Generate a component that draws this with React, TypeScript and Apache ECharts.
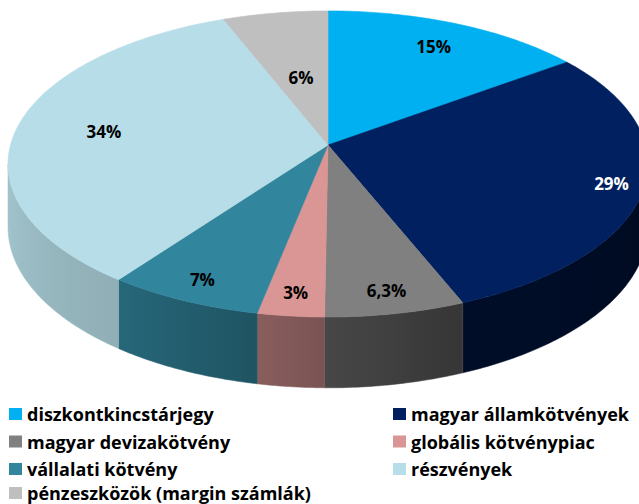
import React, { useEffect, useRef } from "react";
import * as echarts from "echarts";

// ---- data ----
const categories = [
  "diszkontkincstárjegy",
  "magyar államkötvények",
  "magyar devizakötvény",
  "globális kötvénypiac",
  "vállalati kötvény",
  "részvények",
  "pénzeszközök (margin számlák)",
];
const values = [15, 29, 6.3, 3, 7, 34, 6];
const valueLabels = ["15%", "29%", "6,3%", "3%", "7%", "34%", "6%"];

// ---- styles / layout ----
const topColors = ["#00B0F0", "#002060", "#808080", "#D99694", "#31859C", "#B7DEE8", "#BFBFBF"];
const labelColors = ["#000", "#fff", "#000", "#000", "#000", "#000", "#000"];
const labelRadius = [0.8, 0.9, 0.88, 0.88, 0.88, 0.72, 0.48];
const shadeStops: [number, number][] = [
  [97, 0.33],
  [158, 0.42],
  [181, 0.56],
  [192, 0.635],
  [217, 0.785],
  [263, 0.89],
];
// legend grid: column by index parity, row by index / 2
const legendColumnX = [9, 393];
const legendRowTop = [405, 432.5, 460, 484];

const CX = 328;
const CY = 145;
const A = 317.5;
const B = 150.7;
const K = 0.124;
const DEPTH = 62;
const FONT = "'Open Sans', Lato, sans-serif";

function proj(r: number, deg: number, drop = 0): number[] {
  const t = (deg * Math.PI) / 180;
  const w = 1 + K * r * Math.cos(t);
  return [CX + (A * r * Math.sin(t)) / w, CY + (-B * r * Math.cos(t) + drop) / w];
}

function hexToRgb(h: string) {
  const s = h.replace("#", "");
  return [0, 2, 4].map((i) => parseInt(s.substr(i, 2), 16));
}

function shadeFactor(deg: number) {
  if (deg <= shadeStops[0][0]) return shadeStops[0][1];
  for (let i = 1; i < shadeStops.length; i++) {
    const [a0, f0] = shadeStops[i - 1];
    const [a1, f1] = shadeStops[i];
    if (deg <= a1) return f0 + ((deg - a0) / (a1 - a0)) * (f1 - f0);
  }
  return shadeStops[shadeStops.length - 1][1];
}

function shade(color: string, deg: number) {
  const f = shadeFactor(deg);
  const [r, g, b] = hexToRgb(color).map((c) => Math.round(c * f));
  return `rgb(${r},${g},${b})`;
}

function arc(r: number, a0: number, a1: number, drop = 0) {
  const pts: number[][] = [];
  const n = Math.max(2, Math.ceil(Math.abs(a1 - a0) / 0.75));
  for (let i = 0; i <= n; i++) pts.push(proj(r, a0 + ((a1 - a0) * i) / n, drop));
  return pts;
}

const total = values.reduce((s, v) => s + v, 0);
const startAngles: number[] = [];
const endAngles: number[] = [];
{
  let acc = 0;
  values.forEach((v) => {
    startAngles.push((acc / total) * 360);
    acc += v;
    endAngles.push((acc / total) * 360);
  });
}

const WALL_MIN = (Math.acos(-K) * 180) / Math.PI;
const WALL_MAX = 360 - WALL_MIN;

function makeRenderItem(i: number) {
  return () => {
    const a0 = startAngles[i];
    const a1 = endAngles[i];
    const children: any[] = [];
    const w0 = Math.max(a0, WALL_MIN);
    const w1 = Math.min(a1, WALL_MAX);
    if (w1 > w0) {
      const topArc = arc(1, w0, w1);
      const botArc = arc(1, w0, w1, DEPTH).reverse();
      const xs = topArc.map((p) => p[0]);
      const xmin = Math.min(...xs);
      const xmax = Math.max(...xs);
      const stops: any[] = [];
      const n = 8;
      for (let j = 0; j <= n; j++) {
        const d = w0 + ((w1 - w0) * j) / n;
        const x = proj(1, d)[0];
        stops.push({ offset: xmax > xmin ? (x - xmin) / (xmax - xmin) : 0, color: shade(topColors[i], d) });
      }
      stops.sort((p, q) => p.offset - q.offset);
      children.push({
        type: "polygon",
        z2: 1,
        shape: { points: topArc.concat(botArc) },
        style: {
          fill: new echarts.graphic.LinearGradient(0, 0, 1, 0, stops),
          stroke: shade(topColors[i], (w0 + w1) / 2),
          lineWidth: 0.5,
        },
      });
    }
    const topPts = [proj(0, 0)].concat(arc(1, a0, a1));
    children.push({
      type: "polygon",
      z2: 10,
      shape: { points: topPts },
      style: { fill: topColors[i], stroke: topColors[i], lineWidth: 0.6 },
    });
    const mid = (a0 + a1) / 2;
    const lp = proj(labelRadius[i], mid);
    children.push({
      type: "text",
      z2: 20,
      x: lp[0],
      y: lp[1],
      style: {
        text: valueLabels[i],
        fill: labelColors[i],
        font: `bold 17px ${FONT}`,
        align: "center",
        verticalAlign: "middle",
      },
    });
    return { type: "group", children };
  };
}

export default function App() {
  const ref = useRef<HTMLDivElement>(null);
  useEffect(() => {
    if (!ref.current) return;
    const chart = echarts.init(ref.current, undefined, { renderer: "svg" });
    const legendText = {
      fontFamily: FONT,
      fontWeight: "bold" as const,
      fontSize: 18,
      color: "#000",
      lineHeight: 18,
    };
    chart.setOption({
      animation: false,
      backgroundColor: "#fff",
      legend: categories.map((name, i) => ({
        orient: "horizontal",
        left: legendColumnX[i % 2],
        top: legendRowTop[Math.floor(i / 2)],
        itemWidth: 13,
        itemHeight: 12,
        padding: 0,
        icon: "rect",
        selectedMode: false,
        textStyle: legendText,
        data: [name],
      })),
      series: categories.map((name, i) => ({
        type: "custom",
        name,
        coordinateSystem: "none",
        itemStyle: { color: topColors[i] },
        data: [values[i]],
        renderItem: makeRenderItem(i),
      })),
    });
    return () => chart.dispose();
  }, []);
  return (
    <div
      ref={ref}
      style={{ position: "absolute", left: 0, top: 0, width: 639, height: 504 }}
    />
  );
}
